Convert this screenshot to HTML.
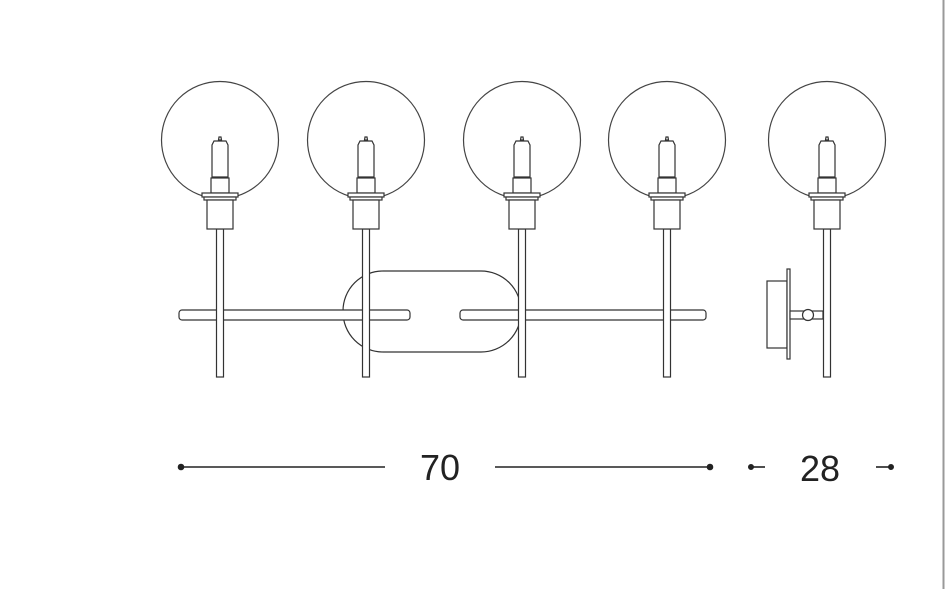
<!DOCTYPE html>
<html><head><style>body{margin:0;background:#fff}svg{display:block}</style></head><body>
<svg width="946" height="589" viewBox="0 0 946 589" xmlns="http://www.w3.org/2000/svg">
<defs>
<g id="lamp" stroke="#333" stroke-width="1.2" fill="#fff">
<circle cx="0" cy="140" r="58.5" fill="none" stroke="#444"/>
<rect x="-3.5" y="229" width="7" height="148"/>
<path d="M-1.5 140 L-1 137 L1 137 L1.5 140 Z"/>
<path d="M-8 145 L-6 141 L6 141 L8 145 L8 177 L-8 177 Z"/>
<rect x="-9" y="178" width="18" height="15"/>
<rect x="-18" y="193" width="36" height="4"/>
<rect x="-16" y="197" width="32" height="3"/>
<rect x="-13" y="200" width="26" height="29"/>
</g>
</defs>
<rect x="343" y="271" width="178" height="81" rx="40" fill="#fff" stroke="#333" stroke-width="1.2"/>
<rect x="179" y="310" width="231" height="10" rx="3" fill="#fff" stroke="#333" stroke-width="1.2"/>
<rect x="460" y="310" width="246" height="10" rx="3" fill="#fff" stroke="#333" stroke-width="1.2"/>
<use href="#lamp" x="220"/>
<use href="#lamp" x="366"/>
<use href="#lamp" x="522"/>
<use href="#lamp" x="667"/>
<use href="#lamp" x="827"/>
<g stroke="#333" stroke-width="1.2" fill="#fff">
<rect x="767" y="281" width="20" height="67"/>
<rect x="787" y="269" width="3" height="90"/>
<rect x="790" y="311" width="33" height="8"/>
<circle cx="808" cy="315" r="5.5"/>
</g>
<line x1="943.5" y1="0" x2="943.5" y2="589" stroke="#999" stroke-width="2"/>
<g stroke="#222" stroke-width="1.6" fill="#222">
<line x1="181" y1="467" x2="385" y2="467"/><circle cx="181" cy="467" r="2.5"/>
<line x1="495" y1="467" x2="710" y2="467"/><circle cx="710" cy="467" r="2.5"/>
<line x1="750" y1="467" x2="765" y2="467"/><circle cx="751" cy="467" r="2.2"/>
<line x1="876" y1="467" x2="891" y2="467"/><circle cx="891" cy="467" r="2.2"/>
</g>
<text x="440" y="480" text-anchor="middle" font-family="Liberation Sans, sans-serif" font-size="36" fill="#222">70</text>
<text x="820" y="481" text-anchor="middle" font-family="Liberation Sans, sans-serif" font-size="36" fill="#222">28</text>
</svg>
</body></html>
